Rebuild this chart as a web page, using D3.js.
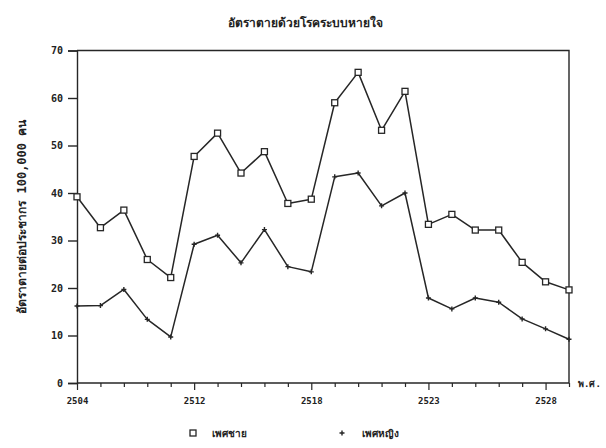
<!DOCTYPE html>
<html>
<head>
<meta charset="utf-8">
<script src="https://cdn.jsdelivr.net/npm/d3@7"></script>
<style>
  html, body { margin: 0; padding: 0; background: #fff; }
  svg text { font-family: "DejaVu Sans Mono", "Noto Sans", sans-serif; fill: #222; }
</style>
</head>
<body>
<svg id="chart" width="606" height="448"></svg>
<script>
// ---- data ----
const titleText = "อัตราตายด้วยโรคระบบหายใจ";
const yAxisTitle = "อัตราตายต่อประชากร 100,000 คน";
const xAxisUnit = "พ.ศ.";
const pointIndex = d3.range(22);               // 22 observations along the x axis
const xTickIndex = [0, 5, 10, 15, 20];          // positions of labelled ticks
const xTickLabels = ["2504", "2512", "2518", "2523", "2528"];
const yTicks = [0, 10, 20, 30, 40, 50, 60, 70];
const seriesNames = ["เพศชาย", "เพศหญิง"];
const male = [39.2, 32.7, 36.4, 26.0, 22.2, 47.7, 52.6, 44.2, 48.7, 37.8, 38.7,
              59.0, 65.4, 53.2, 61.4, 33.4, 35.5, 32.2, 32.2, 25.4, 21.3, 19.6];
const female = [16.2, 16.3, 19.7, 13.4, 9.7, 29.2, 31.1, 25.3, 32.3, 24.5, 23.4,
                43.4, 44.2, 37.3, 40.0, 17.9, 15.6, 17.9, 17.0, 13.5, 11.4, 9.2];

// ---- drawing ----
const svg = d3.select("#chart");
const ink = "#262626";
const pLeft = 77, pRight = 569, pTop = 50.5, pBottom = 383;

const x = d3.scaleLinear().domain([0, pointIndex.length - 1]).range([pLeft, pRight]);
const y = d3.scaleLinear().domain([0, 70]).range([pBottom, pTop]);

// title
svg.append("text")
  .attr("x", 305).attr("y", 27)
  .attr("text-anchor", "middle")
  .attr("font-size", 12).attr("font-weight", "bold")
  .text(titleText);

// frame (top and right)
svg.append("path")
  .attr("d", `M${pLeft},${pTop}H${pRight}V${pBottom}`)
  .attr("fill", "none").attr("stroke", ink).attr("stroke-width", 1.4);

// y axis
const yAxis = svg.append("g")
  .attr("transform", `translate(${pLeft},0)`)
  .call(d3.axisLeft(y).tickValues(yTicks).tickSize(9).tickPadding(5).tickFormat(d3.format("d")));
yAxis.select(".domain").attr("stroke", ink).attr("stroke-width", 1.4);
yAxis.selectAll(".tick line").attr("stroke", ink).attr("stroke-width", 1.4);
yAxis.selectAll(".tick text").attr("font-size", 10).attr("font-weight", "bold").attr("fill", ink);

// x axis
const labelMap = new Map(xTickIndex.map((d, i) => [d, xTickLabels[i]]));
const xAxis = svg.append("g")
  .attr("transform", `translate(0,${pBottom})`)
  .call(d3.axisBottom(x).tickValues(pointIndex).tickSize(4).tickPadding(11)
        .tickFormat(d => labelMap.has(d) ? labelMap.get(d) : ""));
xAxis.select(".domain").attr("stroke", ink).attr("stroke-width", 1.4).attr("d", `M${pLeft},0H${pRight}`);
xAxis.selectAll(".tick line").attr("stroke", ink).attr("stroke-width", 1.2)
  .attr("y2", d => labelMap.has(d) ? 7 : 4);
xAxis.selectAll(".tick text").attr("font-size", 9).attr("font-weight", "bold").attr("fill", ink);

// x unit
svg.append("text")
  .attr("x", pRight + 9).attr("y", pBottom + 4)
  .attr("font-size", 9).attr("font-weight", "bold")
  .text(xAxisUnit);

// y axis title
svg.append("text")
  .attr("transform", `translate(26,${(pTop + pBottom) / 2}) rotate(-90)`)
  .attr("text-anchor", "middle")
  .attr("font-size", 12).attr("font-weight", "bold")
  .text(yAxisTitle);

// lines
const line = d3.line().x((d, i) => x(i)).y(d => y(d));
[male, female].forEach(s => {
  svg.append("path").datum(s)
    .attr("d", line)
    .attr("fill", "none").attr("stroke", ink).attr("stroke-width", 1.5)
    .attr("stroke-linejoin", "round");
});

// markers: squares for male
svg.append("g").selectAll("rect").data(male).join("rect")
  .attr("x", (d, i) => x(i) - 3).attr("y", d => y(d) - 3)
  .attr("width", 6).attr("height", 6)
  .attr("fill", "#fff").attr("stroke", ink).attr("stroke-width", 1.3);

// markers: plus for female
const plus = (cx, cy, r) => `M${cx - r},${cy}H${cx + r}M${cx},${cy - r}V${cy + r}`;
svg.append("g").selectAll("path").data(female).join("path")
  .attr("d", (d, i) => plus(x(i), y(d), 2.5))
  .attr("stroke", ink).attr("stroke-width", 1.4).attr("fill", "none");

// legend
const lg = svg.append("g");
lg.append("rect").attr("x", 190).attr("y", 430).attr("width", 6).attr("height", 6)
  .attr("fill", "#fff").attr("stroke", ink).attr("stroke-width", 1.3);
lg.append("text").attr("x", 212).attr("y", 437).attr("font-size", 10).attr("font-weight", "bold")
  .text(seriesNames[0]);
lg.append("path").attr("d", plus(342, 433, 2.5)).attr("stroke", ink).attr("stroke-width", 1.4);
lg.append("text").attr("x", 362).attr("y", 437).attr("font-size", 10).attr("font-weight", "bold")
  .text(seriesNames[1]);
</script>
</body>
</html>
